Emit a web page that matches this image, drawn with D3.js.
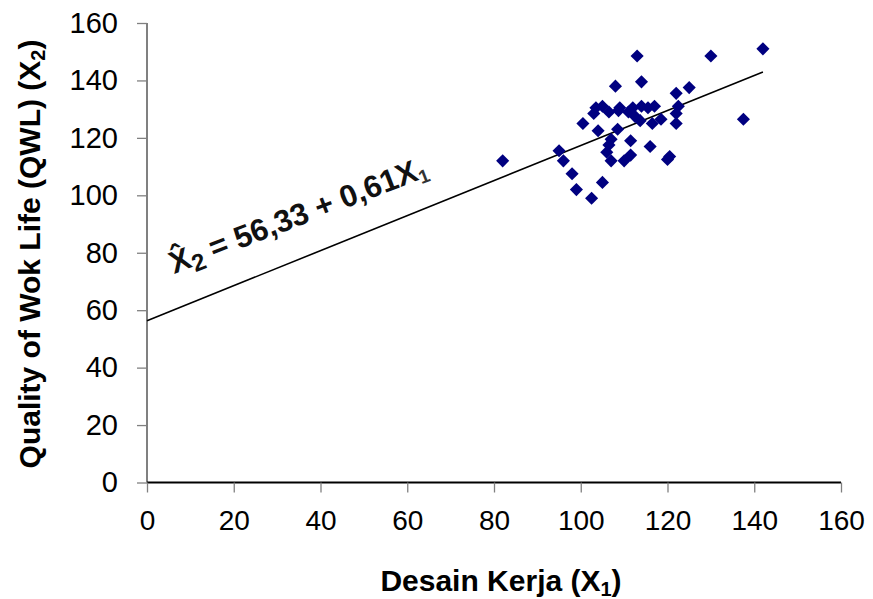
<!DOCTYPE html>
<html><head><meta charset="utf-8">
<script src="https://cdn.jsdelivr.net/npm/d3@7"></script>
<style>
html,body{margin:0;padding:0;background:#fff;}
svg{display:block;font-family:"Liberation Sans",Arial,sans-serif;}
</style></head>
<body>
<svg id="chart" width="873" height="599"></svg>
<script>
// Data
const desainKerja = [82,95,96,98,99,100.5,102.5,103,103.5,104,105,105,106,106.5,106.5,107,107,108,108.5,108.7,109,110,111,111.5,111.5,112,112.5,113,113.7,114,114,115.5,116,116.5,117,118.5,120,120.5,122,122,122.5,122,125,130,137.5,142];
const qwl         = [112,115.5,112,107.5,102,125,99,128.5,130.5,122.5,104.5,131,115,117.5,129,112,119.5,138,123,129.5,130.5,112,129,114,119,130.5,127.5,148.5,126,139.5,131,130.5,117,125,131,126.5,112.5,113.5,125,128.5,131,135.5,137.5,148.5,126.5,151];
const xTicks = [0,20,40,60,80,100,120,140,160];
const yTicks = [0,20,40,60,80,100,120,140,160];
const intercept = 56.33, slope = 0.61;
const lineRange = [0, 142];

const svg = d3.select("#chart");
const x = d3.scaleLinear().domain([0,160]).range([147,841]);
const y = d3.scaleLinear().domain([0,160]).range([482.5,23]);

// Y axis
const yAxis = svg.append("g").attr("transform","translate(147,0)")
  .call(d3.axisLeft(y).tickValues(yTicks).tickSize(10).tickPadding(19));
yAxis.select(".domain").attr("stroke","#808080").attr("stroke-width",2).attr("d","M0,"+y(160)+"V"+y(0));
yAxis.selectAll(".tick line").attr("stroke","#808080").attr("stroke-width",1.3);
yAxis.selectAll(".tick text").attr("font-size",29).attr("fill","#000").attr("font-family","Liberation Sans, Arial, sans-serif");

// X axis
const xAxis = svg.append("g").attr("transform","translate(0,482.5)")
  .call(d3.axisBottom(x).tickValues(xTicks).tickSize(10).tickPadding(18));
xAxis.select(".domain").attr("stroke","#000").attr("stroke-width",2).attr("d","M"+x(0)+",0H"+x(160));
xAxis.selectAll(".tick line").attr("stroke","#808080").attr("stroke-width",1.3);
xAxis.selectAll(".tick text").attr("font-size",28).attr("fill","#000").attr("font-family","Liberation Sans, Arial, sans-serif");

// Regression line
svg.append("line")
  .attr("x1",x(lineRange[0])).attr("y1",y(intercept+slope*lineRange[0]))
  .attr("x2",x(lineRange[1])).attr("y2",y(intercept+slope*lineRange[1]))
  .attr("stroke","#000").attr("stroke-width",1.6);

// Points (diamonds)
svg.append("g").selectAll("path").data(desainKerja).join("path")
  .attr("d", d3.symbol().type(d3.symbolSquare).size(86))
  .attr("transform",(d,i)=>"translate("+x(d)+","+y(qwl[i])+") rotate(45)")
  .attr("fill","#000080");

// Equation label
const eq = svg.append("text")
  .attr("transform","translate(174,274) rotate(-21)")
  .attr("font-size",31).attr("font-weight","bold").attr("fill","#111");
eq.append("tspan").text("X\u0302");
eq.append("tspan").attr("font-size",24).attr("dy",6).text("2");
eq.append("tspan").attr("dy",-6).text(" = 56,33 + 0,61X");
eq.append("tspan").attr("font-size",19).attr("dy",5).attr("fill","#333").text("1");

// Axis titles
const xt = svg.append("text").attr("x",501).attr("y",591).attr("text-anchor","middle")
  .attr("font-size",30).attr("font-weight","bold");
xt.append("tspan").text("Desain Kerja (X");
xt.append("tspan").attr("font-size",20).attr("dy",5).text("1");
xt.append("tspan").attr("dy",-5).text(")");

const yt = svg.append("text").attr("transform","translate(40,254) rotate(-90)").attr("text-anchor","middle")
  .attr("font-size",30).attr("font-weight","bold");
yt.append("tspan").text("Quality of Wok Life (QWL) (X");
yt.append("tspan").attr("font-size",20).attr("dy",5).text("2");
yt.append("tspan").attr("dy",-5).text(")");
</script>
</body></html>
